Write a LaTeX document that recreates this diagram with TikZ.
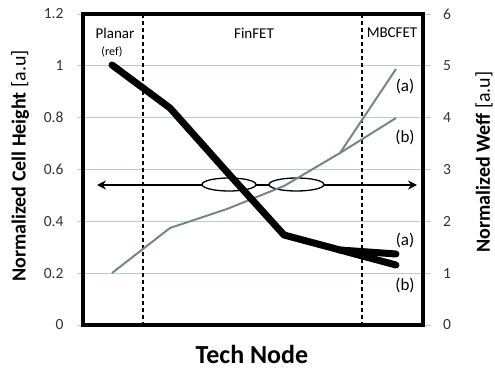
\documentclass[tikz,border=0pt]{standalone}
\usepackage{fontspec}
\setmainfont{Carlito}
\usetikzlibrary{arrows.meta}
\definecolor{gridc}{RGB}{185,205,215}
\definecolor{weffc}{RGB}{115,135,138}
\tikzset{
  grid line/.style={gridc, line width=1pt},
  region line/.style={black, line width=1.1pt, dash pattern=on 4pt off 3pt},
  frame line/.style={black, line width=3.5pt},
  cell line/.style={black, line width=7pt, line join=round, line cap=round},
  weff line/.style={weffc, line width=2pt, line join=round},
  tick label/.style={font=\fontsize{15.5}{18}\selectfont, text=black!80},
  region label/.style={font=\fontsize{15}{18}\selectfont},
  branch label/.style={font=\fontsize{17}{20}\selectfont},
  axis label/.style={font=\fontsize{20}{24}\selectfont\bfseries, rotate=90},
  marker/.style={black, line width=1.3pt, fill=white},
}
\begin{document}
\begin{tikzpicture}[x=1pt,y=-1pt]
\useasboundingbox (0,0) rectangle (495,371);
% grid lines and tick labels
\foreach \i/\l/\r in {0/0/0,1/0.2/1,2/0.4/2,3/0.6/3,4/0.8/4,5/1/5,6/1.2/6}{
  \pgfmathsetmacro{\yy}{325-51.83*\i}
  \draw[grid line] (77,\yy) -- (431,\yy);
  \node[tick label, anchor=east] (l\i) at (67,\yy) {\l};
  \node[tick label] (r\i) at (447,\yy) {\r};
}
% region separators
\draw[region line] (143,14) -- (143,325);
\draw[region line] (362,14) -- (362,325);
% region labels
\node[region label] (planar) at (115,33) {Planar};
\node[font=\fontsize{12}{14}\selectfont] (ref) at (112,52) {(ref)};
\node[region label] (finfet) at (254,33) {FinFET};
\node[region label] (mbcfet) at (392,33) {MBCFET};
% double arrow with ellipses
\coordinate (aL) at (97,185);
\coordinate (aR) at (417,185);
\draw[black, line width=1.8pt, {Stealth[length=9pt,width=9pt]}-{Stealth[length=9pt,width=9pt]}] (aL) -- (aR);
\draw[marker] (229,184.5) ellipse [x radius=27, y radius=6.5];
\draw[marker] (296.5,184.5) ellipse [x radius=27.5, y radius=6.5];
% Weff curve (right axis)
\draw[weff line] (112,273) -- (170,228) -- (227,209) -- (284,186) -- (340,153) -- (396,69);
\draw[weff line] (340,153) -- (396,118);
% Cell height curve (left axis)
\draw[cell line] (112,65) -- (170,108) -- (227,172) -- (284,235) -- (340,250) -- (396,254);
\draw[cell line] (340,250) -- (396,265);
% branch labels
\node[branch label] (wa) at (405,86) {(a)};
\node[branch label] (wb) at (405,137) {(b)};
\node[branch label] (ca) at (405,240) {(a)};
\node[branch label] (cb) at (405,285) {(b)};
% frame
\draw[frame line] (83,14) rectangle (423,325);
% axis labels
\node[axis label] (ylab) at (20,166) {Normalized Cell Height {\mdseries[a.u]}};
\node[axis label] (y2lab) at (484,162) {Normalized Weff {\mdseries[a.u]}};
\node[font=\fontsize{26}{30}\selectfont\bfseries] (xlab) at (252,354) {Tech Node};
\end{tikzpicture}
\end{document}
